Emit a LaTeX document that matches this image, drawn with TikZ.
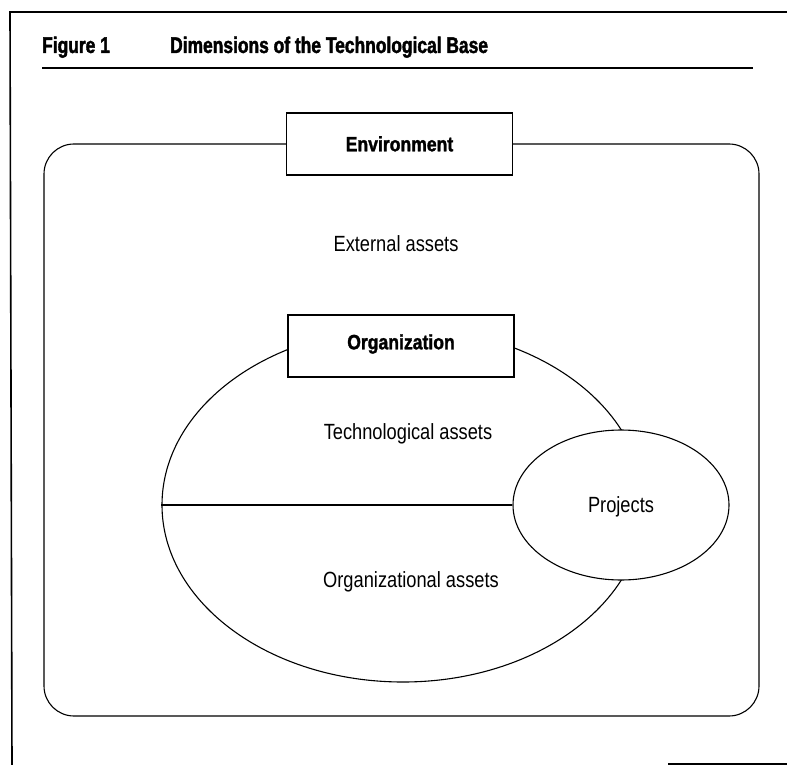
\documentclass[tikz,border=0pt]{standalone}
\usepackage{fontspec}
\setmainfont{Liberation Sans}
\newfontfamily\regc[FakeStretch=0.83]{Liberation Sans}
\newfontfamily\boldc[FakeStretch=0.85,FakeBold=1.5]{Liberation Sans}
\newfontfamily\titlec[FakeStretch=0.77,FakeBold=1.8]{Liberation Sans}
\usetikzlibrary{shapes.geometric}
\begin{document}
\begin{tikzpicture}[x=1pt,y=-1pt,
  frameline/.style={line width=1.6pt},
  shapeline/.style={line width=1.1pt},
  titletext/.style={anchor=base west, inner sep=0pt, font=\titlec\bfseries\fontsize{22.6}{26}\selectfont},
  boxlabel/.style={draw, shapeline, fill=white, minimum width=226pt, minimum height=62pt, inner sep=0pt, text height=14.5pt, text depth=0pt, font=\boldc\bfseries\fontsize{20.7}{24}\selectfont},
  body/.style={anchor=base, inner sep=0pt, font=\regc\fontsize{22}{25}\selectfont},
  ellshape/.style={ellipse, draw, shapeline, inner sep=0pt}]
\useasboundingbox (0,0) rectangle (787,765);
% outer frame
\coordinate (ftl) at (10,12);
\coordinate (ftr) at (787,12);
\coordinate (fbl) at (12,765);
\draw[frameline] (ftr) -- (ftl) -- (fbl);
% title
\node[titletext] (fig) at (42,53) {Figure 1};
\node[titletext] (ttl) at (170,53) {Dimensions of the Technological Base};
\coordinate (r1) at (42,68);
\coordinate (r2) at (753,68);
\draw[shapeline] (r1) -- (r2);
% environment
\draw[shapeline, rounded corners=30pt] (44,144) rectangle (759,716);
\node[boxlabel] (env) at (399.5,144) {Environment};
\node[body] (ext) at (396,251) {External assets};
% organization
\node[ellshape, minimum width=482pt, minimum height=354pt] (org) at (403,505) {};
\node[boxlabel, text depth=8pt] (orgbox) at (401,346) {Organization};
\node[body] (tech) at (408,439) {Technological assets};
\node[body] (orga) at (411,587) {Organizational assets};
% projects
\node[ellshape, fill=white, minimum width=216pt, minimum height=150pt, text height=15.5pt, text depth=0pt, font=\regc\fontsize{22}{25}\selectfont] (proj) at (621,505) {Projects};
\draw[shapeline] (org.west) -- (proj.west);
% bottom right rule
\coordinate (b1) at (668,764);
\coordinate (b2) at (787,764);
\draw[frameline] (b1) -- (b2);
\end{tikzpicture}
\end{document}
